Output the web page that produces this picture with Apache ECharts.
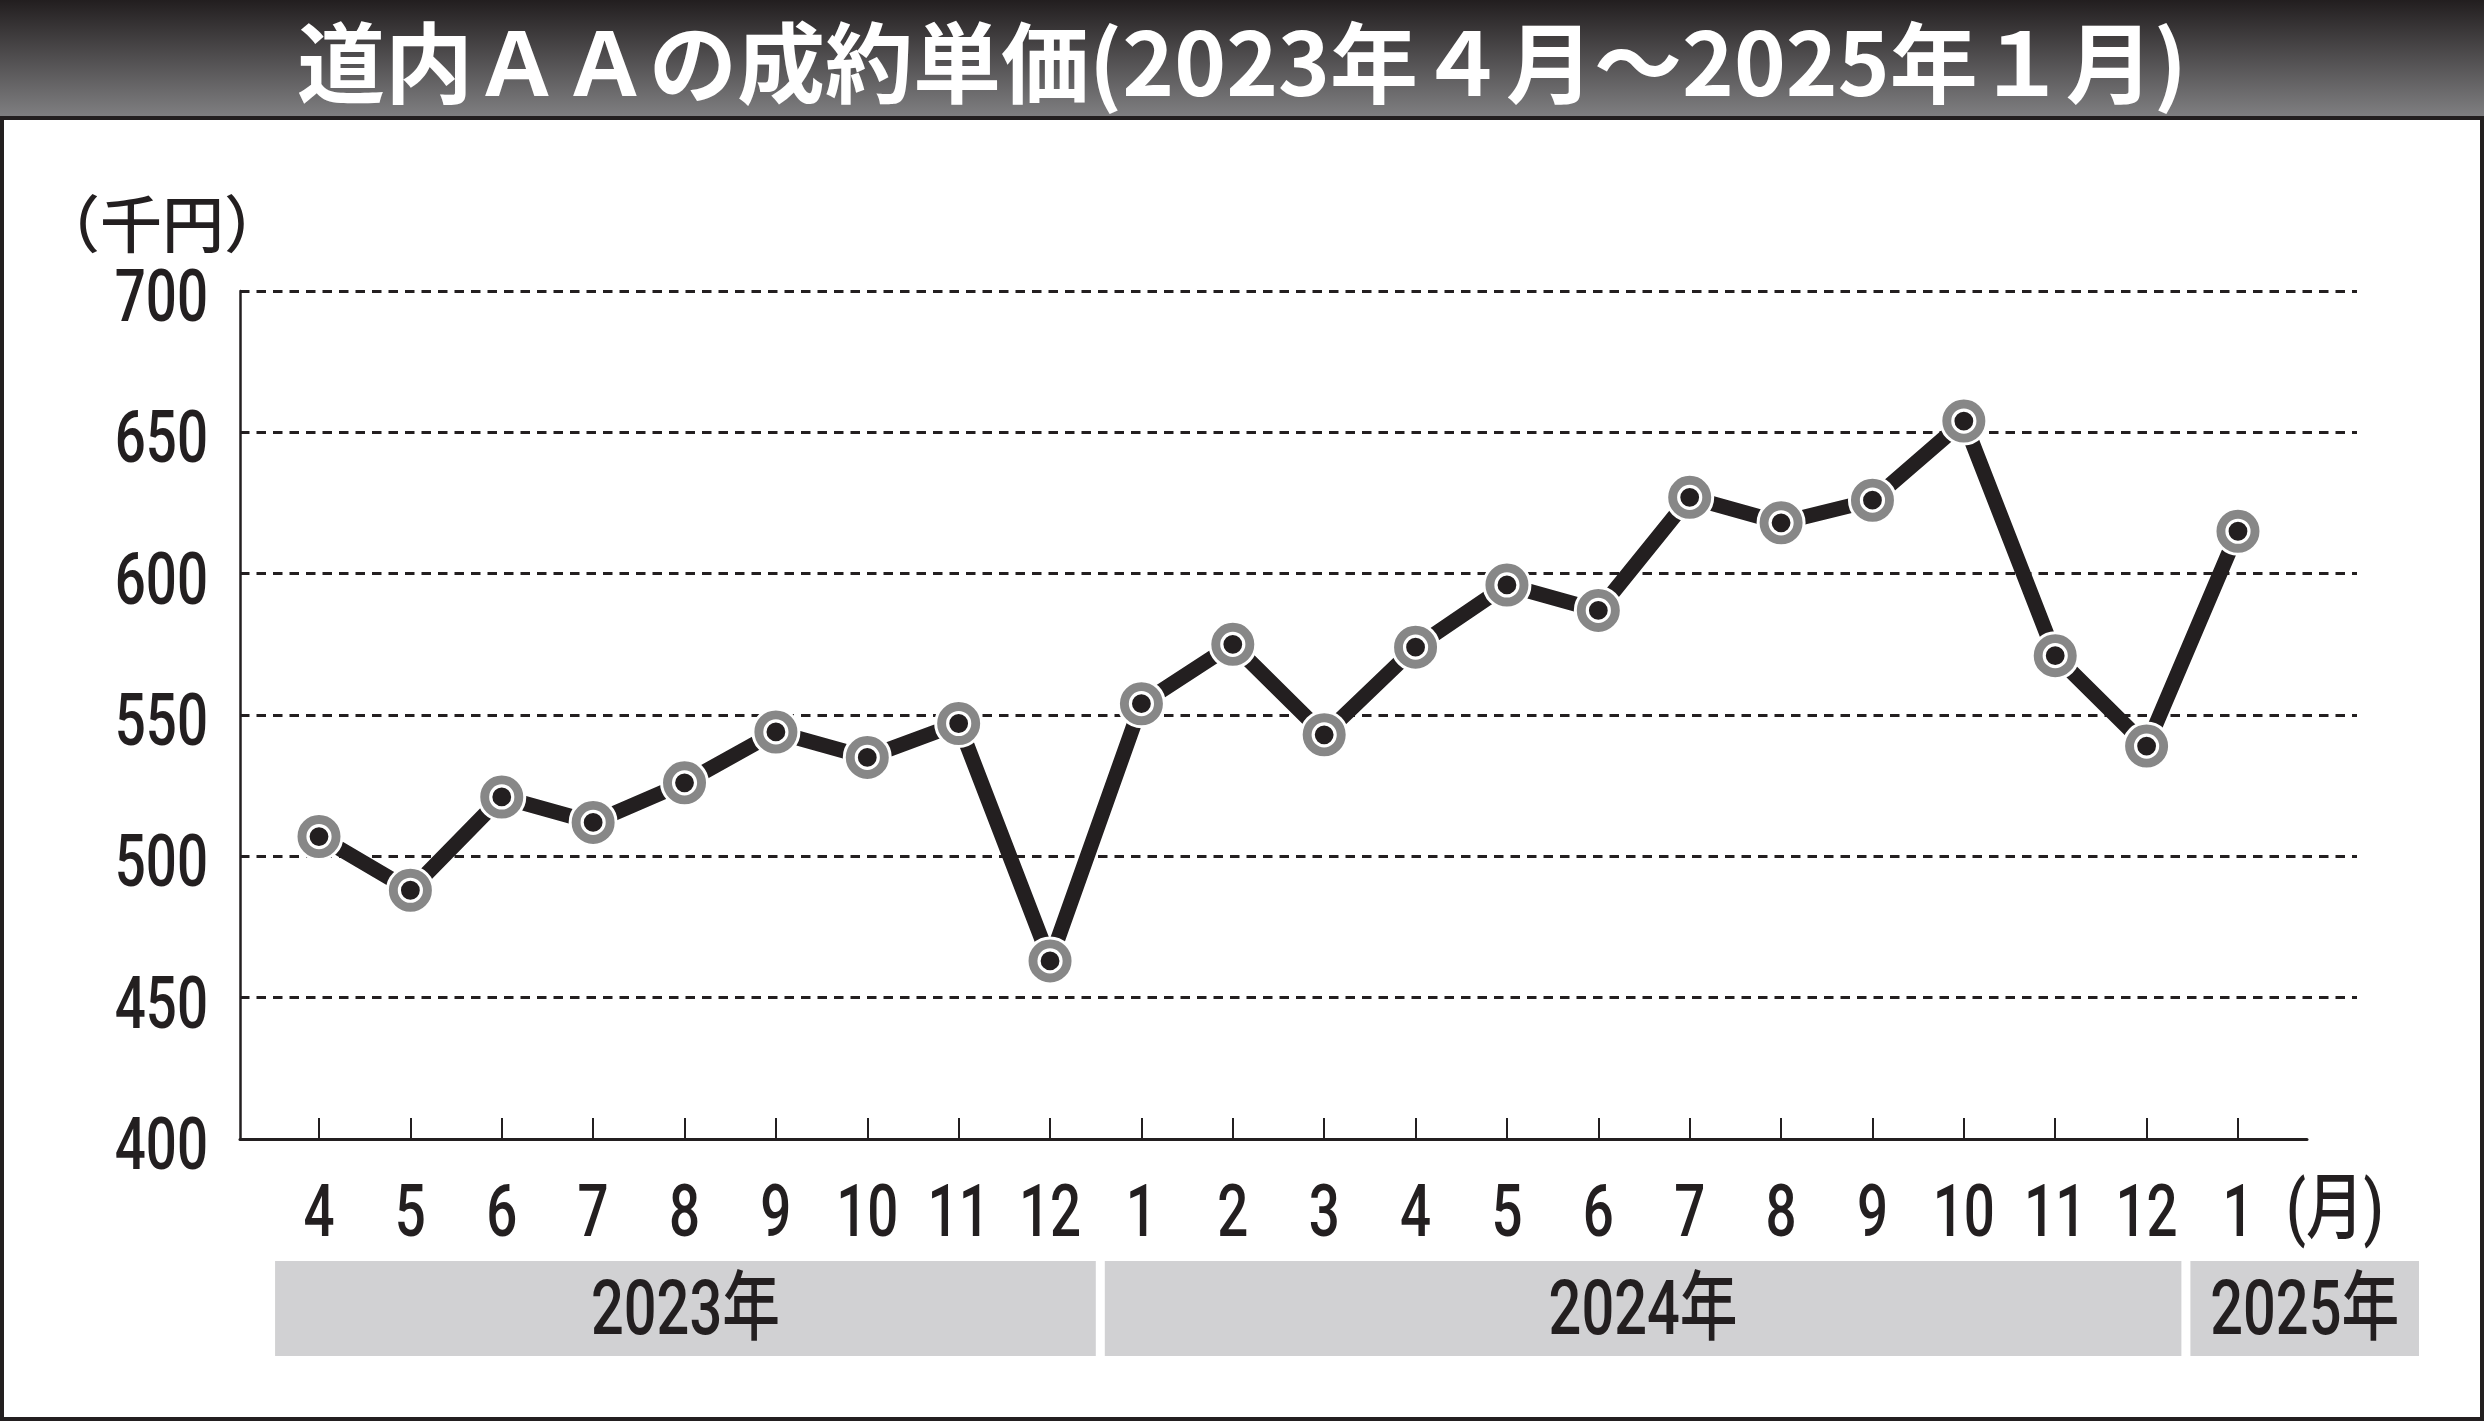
<!DOCTYPE html>
<html>
<head>
<meta charset="utf-8">
<title>道内ＡＡの成約単価</title>
<script src="https://cdn.jsdelivr.net/npm/echarts@6/dist/echarts.min.js"></script>
<style>
html, body { margin: 0; padding: 0; background: #fff; }
#chart { width: 2484px; height: 1421px; }
</style>
</head>
<body>
<div id="chart"></div>
<script>
// 月（2023年4月〜2025年1月）
var months = ["4", "5", "6", "7", "8", "9", "10", "11", "12", "1", "2", "3", "4", "5", "6", "7", "8", "9", "10", "11", "12", "1"];
// 成約単価（千円）
var prices = [507, 488, 521, 512, 526, 544, 535, 547, 463, 554, 575, 543, 574, 596, 587, 627, 618, 626, 654, 571, 539, 615];
var yTicks = [400, 450, 500, 550, 600, 650, 700];
// 年の帯（月の位置で区切る）
var years = ["2023年", "2024年", "2025年"];
var yearEdges = [-0.53, 8.55, 20.43, 23.03];

var ink = "#231f20";
// 細長い数字にするため Roboto を横に縮めて描く
var numFont = "500 72px Roboto, 'Noto Sans CJK JP', sans-serif";
var squeeze = 0.76;

// x方向は3つのgridで同じ尺度にそろえる
var plotLeft = 240, firstX = 319, step = 91.38;
function xRange(rightPx) {
  var mn = (plotLeft - firstX) / step;
  return { min: mn, max: mn + (rightPx - plotLeft) / step };
}
var r0 = xRange(2357), r1 = xRange(2307), r2 = xRange(2440);

var pts = prices.map(function (v, i) { return [i, v]; });
var tickIdx = months.map(function (m, i) { return i; });

function squeezedText(x, y, text, align, font) {
  return {
    type: "text",
    x: x,
    y: y,
    scaleX: squeeze,
    style: { text: text, align: align, verticalAlign: "middle", font: font || numFont, fill: ink }
  };
}

var myChart = echarts.init(document.getElementById("chart"));
myChart.setOption({
  animation: false,
  title: {
    text: "道内ＡＡの成約単価(2023年４月～2025年１月)",
    left: "center",
    top: 14,
    textStyle: { color: "#fff", fontSize: 88, fontWeight: "bold", fontFamily: "'Noto Sans CJK JP', sans-serif" }
  },
  grid: [
    { left: plotLeft, right: 2484 - 2357, top: 291, bottom: 1421 - 1139, outerBoundsMode: "none" },
    { left: plotLeft, right: 2484 - 2307, top: 291, bottom: 1421 - 1139, outerBoundsMode: "none" },
    { left: plotLeft, right: 2484 - 2440, top: 1261, bottom: 1421 - 1356, outerBoundsMode: "none" }
  ],
  xAxis: [
    { gridIndex: 0, type: "value", min: r0.min, max: r0.max, show: false },
    {
      gridIndex: 1,
      type: "value",
      min: r1.min,
      max: r1.max,
      axisLine: { show: true, lineStyle: { color: ink, width: 3 } },
      axisTick: { show: true, inside: true, length: 21, customValues: tickIdx, lineStyle: { color: ink, width: 2 } },
      axisLabel: { show: false },
      splitLine: { show: false }
    },
    { gridIndex: 2, type: "value", min: r2.min, max: r2.max, show: false }
  ],
  yAxis: [
    {
      gridIndex: 0,
      type: "value",
      min: yTicks[0],
      max: yTicks[yTicks.length - 1],
      interval: yTicks[1] - yTicks[0],
      axisLine: { show: true, onZero: false, lineStyle: { color: ink, width: 2.5 } },
      axisTick: { show: false },
      axisLabel: { show: false },
      splitLine: { show: true, showMinLine: false, lineStyle: { type: [9.5, 7], width: 3, color: ink } }
    },
    { gridIndex: 1, type: "value", min: yTicks[0], max: yTicks[yTicks.length - 1], show: false },
    { gridIndex: 2, type: "value", min: 0, max: 1, show: false }
  ],
  series: [
    {
      name: "成約単価",
      type: "line",
      xAxisIndex: 0,
      yAxisIndex: 0,
      data: pts,
      symbol: "circle",
      symbolSize: 46,
      lineStyle: { color: ink, width: 15 },
      itemStyle: { color: "#878787", borderColor: "#fff", borderWidth: 3 },
      z: 3
    },
    {
      type: "scatter",
      xAxisIndex: 0,
      yAxisIndex: 0,
      data: pts,
      symbol: "circle",
      symbolSize: 22,
      itemStyle: { color: ink, borderColor: "#fff", borderWidth: 3.2, opacity: 1 },
      z: 4
    },
    {
      // y軸の目盛り数字
      type: "custom",
      xAxisIndex: 0,
      yAxisIndex: 0,
      data: yTicks.map(function (v) { return [r0.min, v]; }),
      renderItem: function (params, api) {
        var p = api.coord([api.value(0), api.value(1)]);
        return squeezedText(p[0] - 32, p[1] + 12, String(yTicks[params.dataIndex]), "right");
      }
    },
    {
      // 月の数字
      type: "custom",
      xAxisIndex: 1,
      yAxisIndex: 1,
      data: tickIdx.map(function (i) { return [i, yTicks[0]]; }),
      renderItem: function (params, api) {
        var p = api.coord([api.value(0), api.value(1)]);
        return squeezedText(p[0], p[1] + 79, months[params.dataIndex], "center");
      }
    },
    {
      // 年の帯
      type: "custom",
      xAxisIndex: 2,
      yAxisIndex: 2,
      data: years.map(function (y, i) { return [yearEdges[i], yearEdges[i + 1]]; }),
      renderItem: function (params, api) {
        var p0 = api.coord([api.value(0), 1]);
        var p1 = api.coord([api.value(1), 0]);
        return {
          type: "group",
          children: [
            {
              type: "rect",
              shape: { x: p0[0] + 4.5, y: p0[1], width: p1[0] - p0[0] - 9, height: p1[1] - p0[1] },
              style: { fill: "#d1d1d3" }
            },
            squeezedText((p0[0] + p1[0]) / 2, (p0[1] + p1[1]) / 2 + 6, years[params.dataIndex], "center",
              "500 76px Roboto, 'Noto Sans CJK JP', sans-serif")
          ]
        };
      }
    }
  ],
  graphic: [
    {
      type: "rect",
      z: -10,
      shape: { x: 0, y: 0, width: 2484, height: 120 },
      style: {
        fill: new echarts.graphic.LinearGradient(0, 0, 0, 1, [
          { offset: 0, color: "#221e1f" },
          { offset: 1, color: "#828284" }
        ])
      }
    },
    {
      type: "rect",
      z: -10,
      shape: { x: 2, y: 118, width: 2480, height: 1301 },
      style: { fill: null, stroke: ink, lineWidth: 4 }
    },
    {
      type: "text",
      x: 38,
      y: 224,
      style: { text: "（千円）", font: "500 62px 'Noto Sans CJK JP', sans-serif", verticalAlign: "middle", fill: ink }
    },
    {
      type: "text",
      x: 2286,
      y: 1214,
      scaleX: 0.8,
      style: { text: "(月)", font: "500 72px Roboto, 'Noto Sans CJK JP'", verticalAlign: "middle", fill: ink }
    }
  ]
});
</script>
</body>
</html>
